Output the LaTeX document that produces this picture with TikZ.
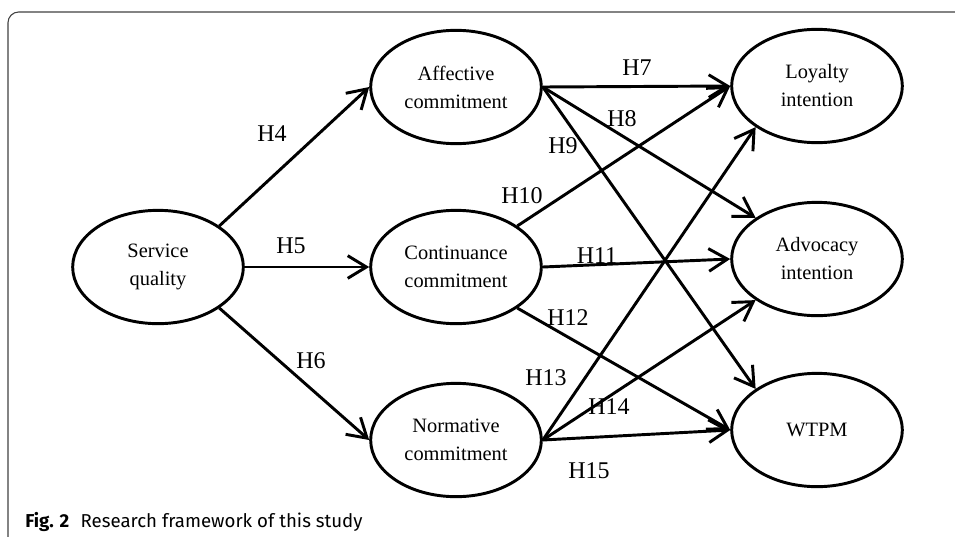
\documentclass[tikz,border=0pt]{standalone}
\usepackage{fontspec}
\setmainfont{Liberation Serif}
\newfontfamily\capfont{Fira Sans}
\usetikzlibrary{shapes,positioning,arrows.meta}

\begin{document}
\begin{tikzpicture}
  [x=0.75pt,y=-0.75pt,
   latentN/.style={ellipse,draw,line width=2.2pt,minimum width=128pt,minimum height=85pt,
                   inner sep=0pt,align=center,font=\fontsize{15.3}{21}\selectfont},
   hypL/.style={inner sep=0pt,font=\fontsize{18}{20}\selectfont},
   pathA/.style={line width=2.2pt,-{Straight Barb[length=14pt,width=17pt]}}]

  \useasboundingbox (0,0) rectangle (955,536);
  \clip (0,0) rectangle (955,536);

  % frame of the figure
  \draw [black!75,line width=0.8pt,rounded corners=8pt] (8,560) |- (990,12);

  \node[latentN] (sq) at (158,267) {Service\\quality};
  \node[latentN] (ac) at (456,87)  {Affective\\commitment};
  \node[latentN] (cc) at (456,267) {Continuance\\commitment};
  \node[latentN] (nc) at (456,440) {Normative\\commitment};
  \node[latentN] (li) at (817,86)  {Loyalty\\intention};
  \node[latentN] (ai) at (817,259) {Advocacy\\intention};
  \node[latentN] (wt) at (817,430) {WTPM};

  \draw [pathA] (sq.north east) -- (ac.west);
  \draw [pathA] (sq.east) -- (cc.west);
  \draw [pathA] (sq.south east) -- (nc.west);

  \draw [pathA] (ac.east) -- (li.west);
  \draw [pathA] (ac.east) -- (ai.north west);
  \draw [pathA] (ac.east) -- (wt.north west);

  \draw [pathA] (cc.north east) -- (li.west);
  \draw [pathA] (cc.east) -- (ai.west);
  \draw [pathA] (cc.south east) -- (wt.west);

  \draw [pathA] (nc.east) -- (li.south west);
  \draw [pathA] (nc.east) -- (ai.south west);
  \draw [pathA] (nc.east) -- (wt.west);

  % hypothesis labels
  \node[hypL] (h4)  at (272,134) {H4};
  \node[hypL] (h5)  at (291,246) {H5};
  \node[hypL] (h6)  at (311,361) {H6};
  \node[hypL] (h7)  at (637,68)  {H7};
  \node[hypL] (h8)  at (622,119) {H8};
  \node[hypL] (h9)  at (563,146) {H9};
  \node[hypL] (h10) at (522,196) {H10};
  \node[hypL] (h11) at (597,256) {H11};
  \node[hypL] (h12) at (568,318) {H12};
  \node[hypL] (h13) at (546,378) {H13};
  \node[hypL] (h14) at (609,407) {H14};
  \node[hypL] (h15) at (589,471) {H15};

  \node[anchor=base west,inner sep=0pt,font=\capfont\fontsize{14}{16}\selectfont] (cap) at (25,527)
    {\textbf{Fig. 2}\hspace{0.6em}Research framework of this study};

\end{tikzpicture}
\end{document}
